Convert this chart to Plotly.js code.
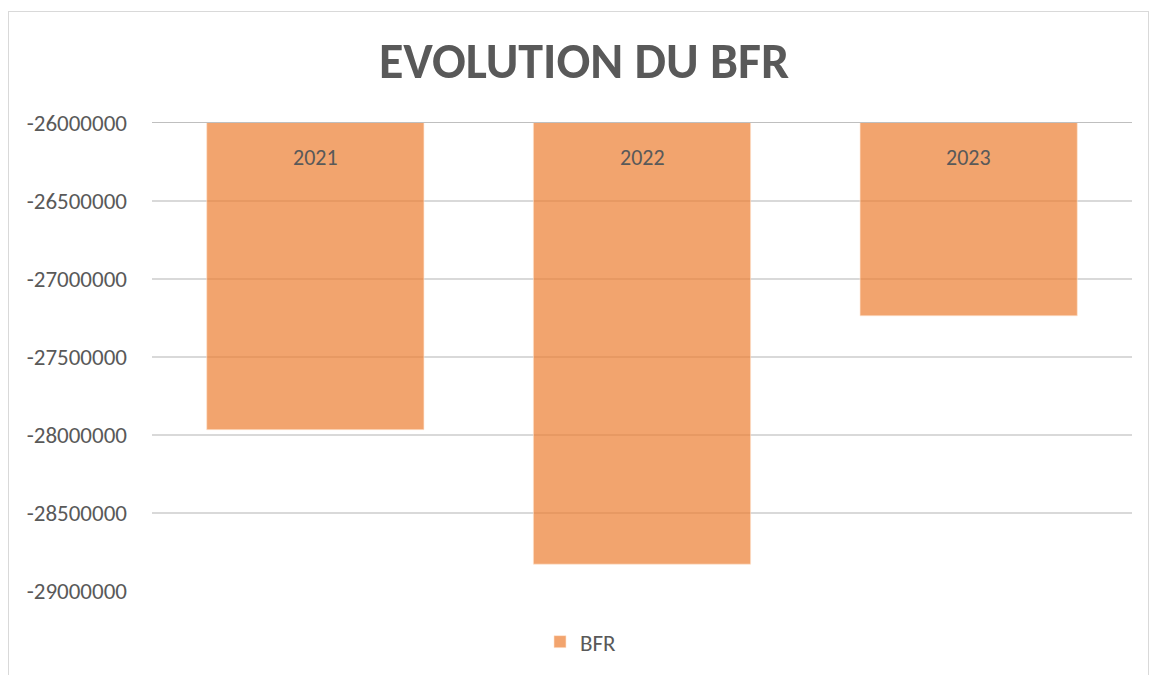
<!DOCTYPE html>
<html>
<head>
<meta charset="utf-8">
<script src="https://cdn.plot.ly/plotly-3.0.1.min.js"></script>
<style>
html,body{margin:0;padding:0;background:#fff;}
#frame{position:absolute;left:8px;top:11px;width:1141px;height:700px;border:1.5px solid #D9D9D9;box-sizing:border-box;}
#chart{position:absolute;left:0;top:0;width:1153px;height:675px;}
</style>
</head>
<body>
<div id="frame"></div>
<div id="chart"></div>
<script>
const categories = ["2021", "2022", "2023"];
const bfrValues = [-27966000, -28828000, -27236000];
const tickValues = [-26000000, -26500000, -27000000, -27500000, -28000000, -28500000, -29000000];
const tickLabels = ["-26000000", "-26500000", "-27000000", "-27500000", "-28000000", "-28500000", "-29000000"];
const seriesName = "BFR";
const chartTitle = "EVOLUTION DU BFR";

const font = "Carlito, Calibri, Lato, 'Open Sans', sans-serif";

const trace = {
  type: "bar",
  x: categories,
  y: bfrValues,
  name: seriesName,
  marker: {color: "rgba(237,125,49,0.7)", line: {color: "rgba(255,230,210,0.6)", width: 1}},
  hoverinfo: "x+y",
  showlegend: true
};

const categoryAnnotations = categories.map((c, i) => ({
  x: i, xref: "x",
  y: 1, yref: "paper",
  yanchor: "middle",
  yshift: -34,
  text: c,
  showarrow: false,
  font: {family: font, size: 22, color: "#595959"}
}));

const layout = {
  width: 1153,
  height: 675,
  paper_bgcolor: "rgba(0,0,0,0)",
  plot_bgcolor: "rgba(0,0,0,0)",
  margin: {l: 152, r: 21, t: 123, b: 81},
  bargap: 0.335,
  title: {
    text: "<b>" + chartTitle + "</b>",
    font: {family: font, size: 50, color: "#595959"},
    x: 584 / 1153, xref: "container", xanchor: "center",
    y: 1 - 60 / 675, yref: "container", yanchor: "middle"
  },
  xaxis: {
    type: "category",
    categoryorder: "array",
    categoryarray: categories,
    range: [-0.5, categories.length - 0.5],
    side: "top",
    showticklabels: false,
    ticks: "",
    showline: true,
    linecolor: "#BFBFBF",
    linewidth: 1.5,
    showgrid: false,
    zeroline: false
  },
  yaxis: {
    range: [-29000000, -26000000],
    tickmode: "array",
    tickvals: tickValues,
    ticktext: tickLabels,
    ticks: "",
    ticklabelstandoff: 24,
    showgrid: true,
    gridcolor: "#D9D9D9",
    gridwidth: 1.3,
    zeroline: false,
    showline: false,
    tickfont: {family: font, size: 23, color: "#595959"}
  },
  annotations: categoryAnnotations,
  showlegend: true,
  legend: {
    orientation: "h",
    x: (540 - 152) / 980, xanchor: "left",
    y: (594 - 645) / 471, yanchor: "middle",
    font: {family: font, size: 23, color: "#595959"},
    itemwidth: 30
  }
};

Plotly.newPlot("chart", [trace], layout, {displayModeBar: false, staticPlot: true});
</script>
</body>
</html>
